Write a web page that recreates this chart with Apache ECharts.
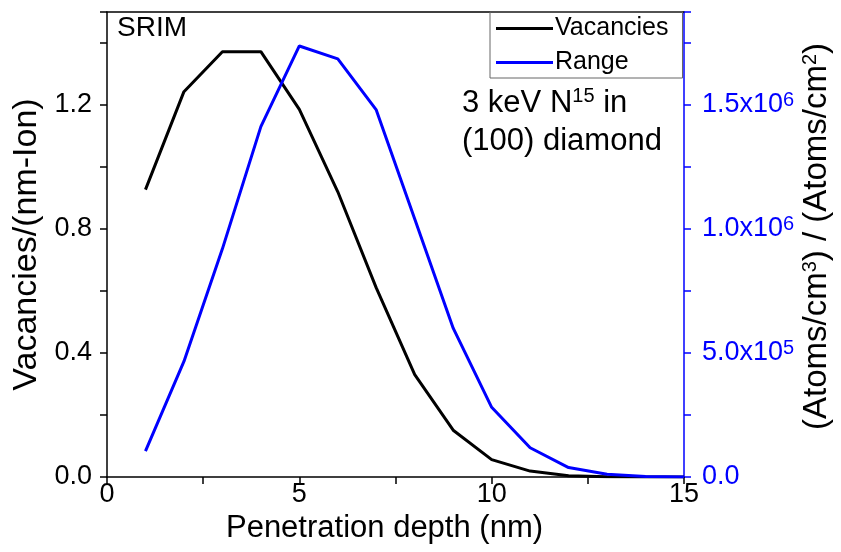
<!DOCTYPE html>
<html>
<head>
<meta charset="utf-8">
<script src="https://cdn.jsdelivr.net/npm/echarts@6/dist/echarts.min.js"></script>
<style>
html,body{margin:0;padding:0;background:#fff;}
#main{width:841px;height:552px;}
</style>
</head>
<body>
<div id="main"></div>
<script>
// ---- data ----
var depth = [1, 2, 3, 4, 5, 6, 7, 8, 9, 10, 11, 12, 13, 14, 15];
var vacancies = [0.927, 1.243, 1.372, 1.372, 1.186, 0.92, 0.61, 0.33, 0.151, 0.056, 0.019, 0.004, 0.001, 0, 0];
var rangeVals = [1.04e5, 4.66e5, 9.2e5, 1.413e6, 1.738e6, 1.686e6, 1.48e6, 1.04e6, 6.0e5, 2.81e5, 1.18e5, 3.8e4, 1.1e4, 2e3, 0];
var seriesNames = ['Vacancies', 'Range'];
var xTicks = [0, 5, 10, 15];
var leftTicks = [0.0, 0.4, 0.8, 1.2];
var rightTickMant = ['0.0', '5.0', '1.0', '1.5'];
var rightTickExp = ['', '5', '6', '6'];
var rightTickVals = [0, 5e5, 1e6, 1.5e6];

var FONT = '"Liberation Sans", Arial, sans-serif';
var BLUE = '#0000ff';

function near(a, b) { return Math.abs(a - b) < 1e-6 * Math.max(1, Math.abs(b)); }

var chart = echarts.init(document.getElementById('main'), null, {renderer: 'canvas'});

var option = {
  backgroundColor: '#ffffff',
  animation: false,
  textStyle: {fontFamily: FONT},
  grid: {left: 107, right: 157, top: 12, bottom: 75, containLabel: false, outerBoundsMode: 'none'},
  legend: {
    orient: 'vertical',
    left: 490, top: 12,
    data: seriesNames,
    icon: 'rect',
    itemWidth: 57, itemHeight: 3, itemGap: 9,
    padding: [4, 14, 3, 6],
    borderColor: '#666', borderWidth: 1,
    textStyle: {fontFamily: FONT, fontSize: 25, color: '#000', padding: [0, 0, 0, -3]}
  },
  xAxis: [{
    type: 'value', min: 0, max: 15, interval: 2.5,
    name: 'Penetration depth (nm)', nameLocation: 'middle', nameGap: 36,
    nameTextStyle: {fontFamily: FONT, fontSize: 31, color: '#000', padding: [0, 22, 0, 0]},
    axisLine: {show: true, onZero: false, lineStyle: {color: '#000', width: 1.5}},
    axisTick: {show: true, inside: false, length: 7, lineStyle: {color: '#000', width: 1.5}},
    axisLabel: {
      fontFamily: FONT, fontSize: 27, color: '#000', margin: 4,
      formatter: function (v) {
        for (var i = 0; i < xTicks.length; i++) if (near(v, xTicks[i])) return String(xTicks[i]);
        return '';
      }
    },
    splitLine: {show: false}
  }, {
    type: 'value', min: 0, max: 15, position: 'top',
    axisLine: {show: true, onZero: false, lineStyle: {color: '#000', width: 1.5}},
    axisTick: {show: false}, axisLabel: {show: false}, splitLine: {show: false}
  }],
  yAxis: [{
    type: 'value', min: 0, max: 1.5, interval: 0.2, position: 'left',
    name: 'Vacancies/(nm-Ion)', nameLocation: 'middle', nameGap: 59, nameRotate: 90,
    nameTextStyle: {fontFamily: FONT, fontSize: 34, color: '#000'},
    axisLine: {show: true, onZero: false, lineStyle: {color: '#000', width: 1.5}},
    axisTick: {show: true, inside: false, length: 7, lineStyle: {color: '#000', width: 1.5}},
    axisLabel: {
      fontFamily: FONT, fontSize: 27, color: '#000', margin: 15,
      formatter: function (v) {
        for (var i = 0; i < leftTicks.length; i++) if (near(v, leftTicks[i])) return leftTicks[i].toFixed(1);
        return '';
      }
    },
    splitLine: {show: false}
  }, {
    type: 'value', min: 0, max: 1.875e6, interval: 2.5e5, position: 'right',
    name: '(Atoms/cm{s|3}) / (Atoms/cm{s|2})', nameLocation: 'middle', nameGap: 116, nameRotate: 90,
    nameMoveOverlap: false,
    nameTextStyle: {
      fontFamily: FONT, fontSize: 33, color: '#000', padding: [0, 0, 0, 16],
      rich: {s: {fontFamily: FONT, fontSize: 20, color: '#000', verticalAlign: 'top', lineHeight: 34}}
    },
    axisLine: {show: true, onZero: false, lineStyle: {color: BLUE, width: 1.5}},
    axisTick: {show: true, inside: false, length: 7, lineStyle: {color: BLUE, width: 1.5}},
    axisLabel: {
      fontFamily: FONT, fontSize: 27, color: BLUE, margin: 18,
      formatter: function (v) {
        for (var i = 0; i < rightTickVals.length; i++) {
          if (near(v, rightTickVals[i])) {
            if (rightTickExp[i] === '') return '{m|' + rightTickMant[i] + '}';
            return '{m|' + rightTickMant[i] + 'x10}{e|' + rightTickExp[i] + '}';
          }
        }
        return '';
      },
      rich: {
        m: {fontFamily: FONT, fontSize: 27, color: BLUE, lineHeight: 30},
        e: {fontFamily: FONT, fontSize: 20, color: BLUE, verticalAlign: 'top', lineHeight: 30}
      }
    },
    splitLine: {show: false}
  }],
  graphic: [
    {type: 'text', left: 117, top: 14, style: {text: 'SRIM', font: '28px "Liberation Sans", Arial, sans-serif', fill: '#000'}},
    {type: 'text', left: 462, top: 86, style: {
      text: '{a|3 keV N}{s|15}{a| in}',
      rich: {
        a: {fontFamily: FONT, fontSize: 31, fill: '#000', color: '#000', lineHeight: 34},
        s: {fontFamily: FONT, fontSize: 20, fill: '#000', color: '#000', verticalAlign: 'top', lineHeight: 34}
      }
    }},
    {type: 'text', left: 462, top: 126, style: {text: '(100) diamond', font: '31px "Liberation Sans", Arial, sans-serif', fill: '#000'}}
  ],
  series: [{
    name: seriesNames[0], type: 'line', xAxisIndex: 0, yAxisIndex: 0,
    data: depth.map(function (d, i) { return [d, vacancies[i]]; }),
    symbol: 'none', color: '#000', lineStyle: {color: '#000', width: 3}, z: 3
  }, {
    name: seriesNames[1], type: 'line', xAxisIndex: 0, yAxisIndex: 1,
    data: depth.map(function (d, i) { return [d, rangeVals[i]]; }),
    symbol: 'none', color: BLUE, lineStyle: {color: BLUE, width: 3}, z: 4
  }]
};
chart.setOption(option);
</script>
</body>
</html>
